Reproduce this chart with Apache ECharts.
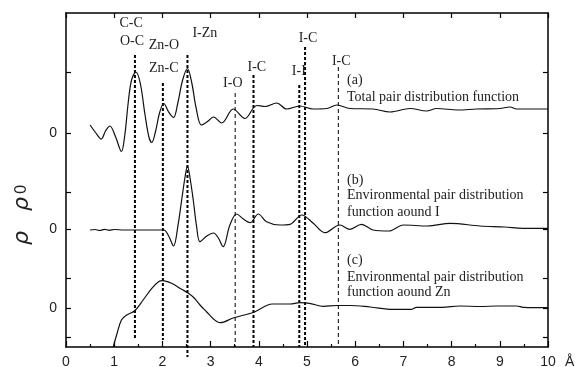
<!DOCTYPE html>
<html>
<head>
<meta charset="utf-8">
<script src="https://cdn.jsdelivr.net/npm/echarts@6/dist/echarts.min.js"></script>
<style>
  html, body { margin: 0; padding: 0; background: #fff; }
  #chart { width: 583px; height: 367px; }
</style>
</head>
<body>
<div id="chart"></div>
<script>
// r in Å; g values are relative to each curve's own zero line
const rTotal = [0.50, 0.62, 0.73, 0.82, 0.91, 1.03, 1.15, 1.22, 1.29, 1.36, 1.45, 1.54, 1.64, 1.72, 1.78, 1.86, 1.94, 2.03, 2.13, 2.23, 2.32, 2.42, 2.52, 2.61, 2.70, 2.81, 2.95, 3.06, 3.23, 3.47, 3.71, 3.96, 4.13, 4.37, 4.58, 4.85, 5.13, 5.41, 5.62, 5.89, 6.37, 6.72, 7.14, 7.48, 7.69, 8.13, 8.52, 9.00, 9.21, 9.35, 10.0];
const gTotal = [0.8, 0.0, -0.6, 0.2, 0.7, -0.4, -1.85, -0.2, 3.0, 5.3, 6.1, 5.0, 1.8, -0.4, -0.95, 0.2, 2.0, 2.95, 2.1, 1.55, 3.0, 5.3, 6.45, 5.0, 2.5, 0.8, 1.2, 1.6, 1.0, 2.4, 1.45, 2.75, 2.65, 3.0, 2.4, 2.7, 2.4, 2.45, 2.8, 2.45, 2.4, 2.1, 2.45, 2.2, 2.45, 2.3, 2.4, 2.45, 2.6, 2.4, 2.4];

const rEnvI = [0.5, 0.6, 0.7, 0.8, 0.9, 1.0, 1.2, 1.5, 1.8, 2.03, 2.13, 2.23, 2.33, 2.40, 2.47, 2.52, 2.57, 2.64, 2.71, 2.78, 2.92, 3.06, 3.16, 3.26, 3.40, 3.54, 3.68, 3.82, 3.99, 4.16, 4.44, 4.65, 4.89, 5.13, 5.37, 5.68, 5.89, 6.13, 6.37, 6.7, 7.0, 7.5, 7.97, 8.59, 9.1, 9.48, 10.0];
const gEnvI = [-0.1, -0.05, -0.15, -0.03, -0.13, -0.05, -0.1, -0.1, -0.1, -0.1, -0.7, -1.7, 0.57, 2.9, 5.2, 6.3, 5.2, 2.9, 0.23, -1.27, -0.7, -0.4, -0.9, -1.77, 0.4, 1.5, 1.0, 0.63, 1.5, 0.73, 0.4, 0.47, 1.4, 0.57, -0.37, 0.4, -0.03, 0.47, -0.1, -0.2, 0.4, 0.3, 0.57, 0.3, 0.2, 0.07, 0.07];

const rEnvZn = [0.98, 1.05, 1.15, 1.26, 1.42, 1.60, 1.78, 1.92, 2.00, 2.19, 2.40, 2.54, 2.66, 2.78, 2.92, 3.06, 3.20, 3.47, 3.70, 3.92, 4.10, 4.27, 4.65, 4.85, 5.05, 5.34, 5.62, 5.89, 6.31, 6.79, 7.17, 7.27, 7.80, 8.17, 8.60, 8.94, 9.35, 9.49, 10.0];
const gEnvZn = [-3.9, -2.7, -1.2, -0.7, -0.3, 0.8, 1.97, 2.63, 2.73, 2.47, 1.87, 1.47, 1.0, 0.3, -0.4, -1.1, -1.47, -1.0, -0.7, -0.37, 0.1, 0.4, 0.4, 0.53, 0.47, 0.17, 0.25, 0.25, 0.1, -0.13, -0.13, 0.07, 0.07, 0.2, 0.15, 0.2, 0.2, 0.07, 0.03];

// bond distances (Å) shown as vertical reference lines
const bondR = [1.43, 2.01, 2.52, 3.51, 3.89, 4.84, 4.96, 5.65];
const bondThick = [1, 1, 1, 0, 1, 1, 1, 0];

const xTicks = [0, 1, 2, 3, 4, 5, 6, 7, 8, 9, 10];
const zeroLabel = '0';

// ---- layout (axis units: 1 unit = 10 px of plot height) ----
const yMax = 33.4;
const offTotal = 21.4, offEnvI = 11.8, offEnvZn = 3.9;
const yTickPos = [1.0, 3.9, 6.9, 11.8, 15.5, 21.4, 27.5];
const bondTop = [29.2, 26.4, 29.2, 25.4, 27.2, 26.2, 30.0, 28.0];
const bondBottom = [0.7, 0.7, -1.0, 0, 0, 0, 0, 0];

const notes = [
  ['C-C', 1.35, 32.4, 'center'],
  ['O-C', 1.37, 30.6, 'center'],
  ['Zn-O', 2.03, 30.2, 'center'],
  ['Zn-C', 2.03, 27.9, 'center'],
  ['I-Zn', 2.88, 31.4, 'center'],
  ['I-O', 3.46, 26.4, 'center'],
  ['I-C', 3.96, 28.0, 'center'],
  ['I-I', 4.83, 27.6, 'center'],
  ['I-C', 5.02, 30.9, 'center'],
  ['I-C', 5.71, 28.6, 'center'],
  ['(a)', 5.83, 26.7, 'left'],
  ['Total pair distribution function', 5.83, 25.0, 'left'],
  ['(b)', 5.83, 16.7, 'left'],
  ['Environmental pair distribution', 5.83, 15.2, 'left'],
  ['function aound I', 5.83, 13.5, 'left'],
  ['(c)', 5.83, 8.7, 'left'],
  ['Environmental pair distribution', 5.83, 7.0, 'left'],
  ['function aound Zn', 5.83, 5.5, 'left']
];

const shift = (rs, gs, off) => rs.map((r, i) => [r, gs[i] + off]);

const chart = echarts.init(document.getElementById('chart'), null, { renderer: 'canvas' });

const lineStyle = { color: '#111', width: 1.2 };
const axisLine = { show: true, onZero: false, lineStyle: { color: '#000', width: 1.5 } };

const option = {
  animation: false,
  backgroundColor: '#fff',
  grid: { left: 66, right: 35, top: 13, bottom: 20, outerBoundsMode: 'none' },
  xAxis: [
    {
      type: 'value', min: 0, max: 10, interval: 1, position: 'bottom',
      axisLine,
      axisTick: { inside: true, length: 6, lineStyle: { color: '#000', width: 1.2 } },
      minorTick: { show: true, splitNumber: 2, length: 3, lineStyle: { color: '#000', width: 1.2 } },
      axisLabel: {
        margin: 8, color: '#222', fontSize: 14, fontFamily: 'Liberation Sans',
        formatter: (v) => (xTicks.includes(v) ? String(v) : '')
      },
      splitLine: { show: false },
      name: 'Å', nameLocation: 'end', nameGap: 17,
      nameTextStyle: { color: '#222', fontSize: 14, fontFamily: 'Liberation Sans', verticalAlign: 'top', padding: [8, 0, 0, 0] }
    },
    {
      type: 'value', min: 0, max: 10, interval: 1, position: 'top',
      axisLine,
      axisTick: { inside: true, length: 5, lineStyle: { color: '#000', width: 1.2 } },
      axisLabel: { show: false },
      splitLine: { show: false }
    }
  ],
  yAxis: [
    {
      type: 'value', min: 0, max: yMax, position: 'left',
      axisLine,
      axisTick: { inside: true, length: 5, customValues: yTickPos, lineStyle: { color: '#000', width: 1.2 } },
      axisLabel: {
        margin: 9, color: '#222', fontSize: 14, fontFamily: 'Liberation Sans',
        customValues: [offEnvZn, offEnvI, offTotal],
        formatter: () => zeroLabel
      },
      splitLine: { show: false },
      name: '{p|ρ}      {p|ρ} {z|0}',
      nameLocation: 'middle', nameGap: 33, nameRotate: 90,
      nameTextStyle: {
        padding: [0, 70, 0, 0],
        rich: {
          p: { fontSize: 22, fontStyle: 'italic', fontFamily: 'DejaVu Sans', color: '#222' },
          z: { fontSize: 16, fontFamily: 'Liberation Sans', color: '#222' }
        }
      }
    },
    {
      type: 'value', min: 0, max: yMax, position: 'right',
      axisLine,
      axisTick: { inside: true, length: 5, customValues: yTickPos, lineStyle: { color: '#000', width: 1.2 } },
      axisLabel: { show: false },
      splitLine: { show: false }
    }
  ],
  series: [
    {
      name: 'Total', type: 'line', data: shift(rTotal, gTotal, offTotal),
      showSymbol: false, smooth: 0.35, lineStyle
    },
    {
      name: 'Env I', type: 'line', data: shift(rEnvI, gEnvI, offEnvI),
      showSymbol: false, smooth: 0.35, lineStyle
    },
    {
      name: 'Env Zn', type: 'line', data: shift(rEnvZn, gEnvZn, offEnvZn),
      showSymbol: false, smooth: 0.35, lineStyle
    },
    {
      name: 'bonds', type: 'custom', silent: true, z: 3,
      data: bondR.map((r, i) => [r, bondTop[i], bondBottom[i]]),
      renderItem: (params, api) => {
        const i = params.dataIndex;
        const p1 = api.coord([api.value(0), api.value(1)]);
        const p2 = api.coord([api.value(0), api.value(2)]);
        const thick = bondThick[i] === 1;
        return {
          type: 'line',
          shape: { x1: p1[0], y1: p1[1], x2: p2[0], y2: p2[1] },
          style: { stroke: '#000', lineWidth: thick ? 2 : 1, lineDash: thick ? [3, 2] : [4, 3] }
        };
      }
    },
    {
      name: 'notes', type: 'custom', silent: true, z: 4,
      data: notes.map((n) => [n[1], n[2]]),
      renderItem: (params, api) => {
        const n = notes[params.dataIndex];
        const p = api.coord([api.value(0), api.value(1)]);
        return {
          type: 'text', x: p[0], y: p[1],
          style: {
            text: n[0], fill: '#222', font: '14px "Liberation Serif"',
            align: n[3], verticalAlign: 'middle'
          }
        };
      }
    }
  ]
};

chart.setOption(option);
</script>
</body>
</html>
